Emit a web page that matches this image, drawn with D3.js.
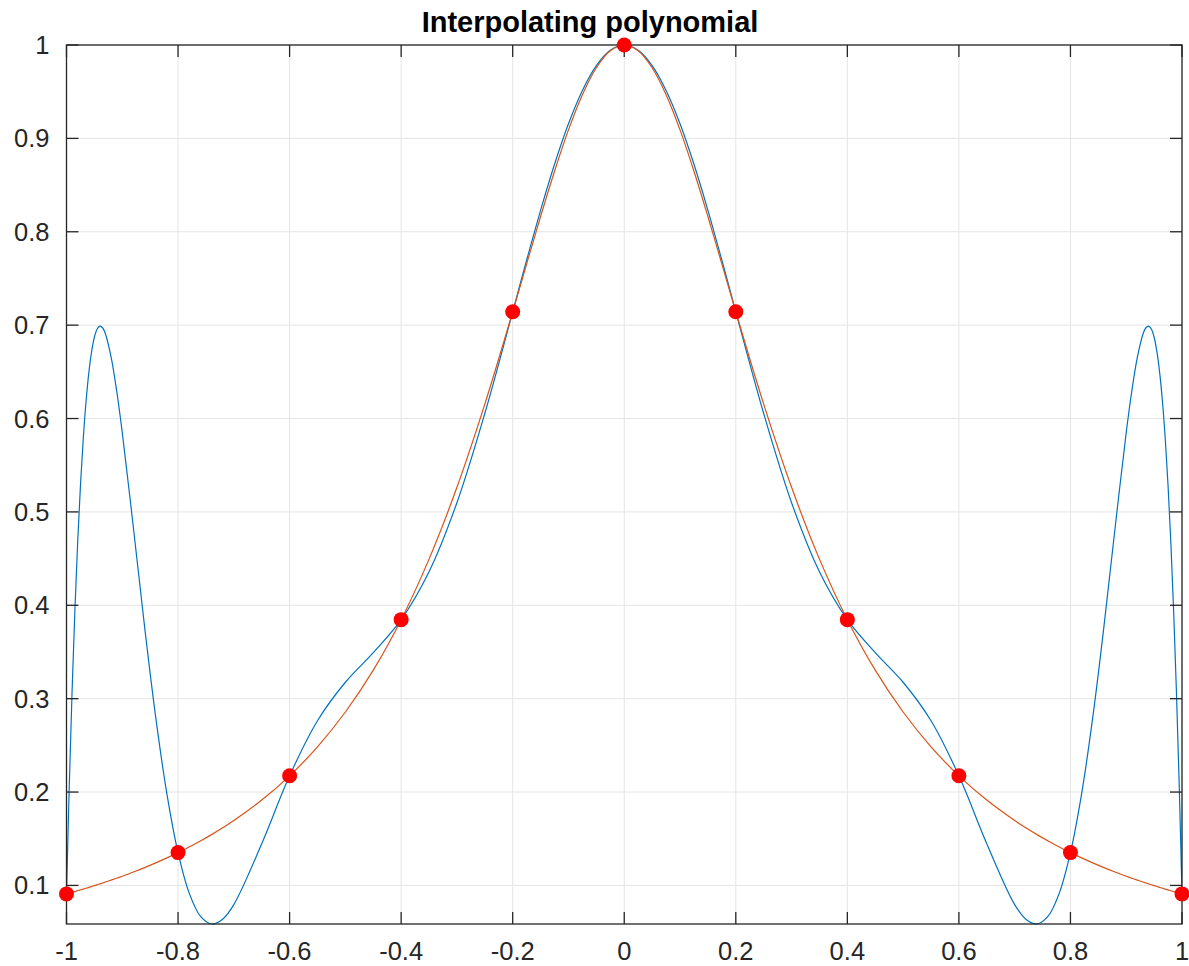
<!DOCTYPE html>
<html>
<head>
<meta charset="utf-8">
<script src="https://cdn.jsdelivr.net/npm/d3@7"></script>
<style>
  html, body { margin: 0; padding: 0; background: #fff; }
  svg { display: block; }
</style>
</head>
<body>
<div id="chart"></div>
<script>
// sample positions (x >= 0; mirrored for x < 0)
const xHalf = [0, 0.025, 0.05, 0.075, 0.1, 0.125, 0.15, 0.175, 0.2, 0.25, 0.3, 0.35, 0.4, 0.45, 0.5,
  0.55, 0.6, 0.65, 0.7, 0.72, 0.74, 0.76, 0.78, 0.8, 0.82, 0.84, 0.86, 0.88, 0.9, 0.91, 0.92, 0.93,
  0.935, 0.94, 0.945, 0.95, 0.955, 0.96, 0.965, 0.97, 0.975, 0.98, 0.985, 0.99, 0.995, 1];
// interpolating polynomial (blue)
const polyHalf = [1, 0.99445, 0.97801, 0.95138, 0.91564, 0.87225, 0.82294, 0.76961, 0.71429, 0.60541,
  0.50988, 0.43596, 0.38462, 0.34922, 0.31758, 0.27637, 0.21739, 0.14463, 0.0795, 0.06389, 0.0587,
  0.06705, 0.0918, 0.13514, 0.1981, 0.27989, 0.37711, 0.48274, 0.58498, 0.62949, 0.66571, 0.6903,
  0.69694, 0.69903, 0.69593, 0.68706, 0.67164, 0.64891, 0.618, 0.57806, 0.52812, 0.4672, 0.39423,
  0.30799, 0.20733, 0.09091];
// underlying function (orange)
const funcHalf = [1, 0.99379, 0.97561, 0.94675, 0.90909, 0.86486, 0.81633, 0.76555, 0.71429, 0.61538,
  0.52632, 0.44944, 0.38462, 0.33058, 0.28571, 0.24845, 0.21739, 0.19139, 0.16949, 0.16171, 0.15442,
  0.14758, 0.14116, 0.13514, 0.12947, 0.12413, 0.1191, 0.11436, 0.10989, 0.10775, 0.10566, 0.10364,
  0.10265, 0.10167, 0.1007, 0.09975, 0.09881, 0.09789, 0.09697, 0.09607, 0.09518, 0.0943, 0.09344,
  0.09258, 0.09174, 0.09091];
// nodes (red dots)
const nodeX = [-1, -0.8, -0.6, -0.4, -0.2, 0, 0.2, 0.4, 0.6, 0.8, 1];
const nodeY = [0.09091, 0.13514, 0.21739, 0.38462, 0.71429, 1, 0.71429, 0.38462, 0.21739, 0.13514, 0.09091];
const xTicks = [-1, -0.8, -0.6, -0.4, -0.2, 0, 0.2, 0.4, 0.6, 0.8, 1];
const yTicks = [0.1, 0.2, 0.3, 0.4, 0.5, 0.6, 0.7, 0.8, 0.9, 1];

const mirror = (xs, ys) => {
  const pts = [];
  for (let i = xs.length - 1; i > 0; i--) pts.push([-xs[i], ys[i]]);
  xs.forEach((x, i) => pts.push([x, ys[i]]));
  return pts;
};
const polyPts = mirror(xHalf, polyHalf);
const funcPts = mirror(xHalf, funcHalf);

const W = 1189, H = 966, mL = 66.5, mR = 7, mT = 45, mB = 42;
const FONT = 'Liberation Sans, Arial, Helvetica, sans-serif';
const AX = '#262626';

const svg = d3.select('#chart').append('svg').attr('width', W).attr('height', H);
const x = d3.scaleLinear().domain([-1, 1]).range([mL, W - mR]);
const y = d3.scaleLinear().domain([d3.min(polyHalf), 1]).range([H - mB, mT]);

// grid
xTicks.forEach(t => {
  svg.append('line').attr('x1', x(t)).attr('x2', x(t)).attr('y1', mT).attr('y2', H - mB)
    .attr('stroke', '#e5e5e5').attr('stroke-width', 1);
});
yTicks.forEach(t => {
  svg.append('line').attr('x1', mL).attr('x2', W - mR).attr('y1', y(t)).attr('y2', y(t))
    .attr('stroke', '#e5e5e5').attr('stroke-width', 1);
});

svg.append('defs').append('clipPath').attr('id', 'plotClip').append('rect')
  .attr('x', mL).attr('y', mT - 1).attr('width', W - mR - mL).attr('height', H - mB - mT + 2);

const line = d3.line().x(d => x(d[0])).y(d => y(d[1])).curve(d3.curveCatmullRom.alpha(0.5));
svg.append('path').datum(polyPts).attr('d', line).attr('fill', 'none')
  .attr('stroke', '#0072BD').attr('stroke-width', 1.2).attr('clip-path', 'url(#plotClip)');
svg.append('path').datum(funcPts).attr('d', line).attr('fill', 'none')
  .attr('stroke', '#D95319').attr('stroke-width', 1.2);

// box + ticks (MATLAB style, inward on all four sides)
const tl = 12;
svg.append('rect').attr('x', mL).attr('y', mT).attr('width', W - mR - mL).attr('height', H - mB - mT)
  .attr('fill', 'none').attr('stroke', AX).attr('stroke-width', 1.3);
xTicks.forEach(t => {
  svg.append('line').attr('x1', x(t)).attr('x2', x(t)).attr('y1', H - mB).attr('y2', H - mB - tl)
    .attr('stroke', AX).attr('stroke-width', 1.3);
  svg.append('line').attr('x1', x(t)).attr('x2', x(t)).attr('y1', mT).attr('y2', mT + tl)
    .attr('stroke', AX).attr('stroke-width', 1.3);
  svg.append('text').attr('x', x(t)).attr('y', H - mB + 36).attr('text-anchor', 'middle')
    .attr('font-family', FONT).attr('font-size', 25.5).attr('fill', AX).text(String(t));
});
yTicks.forEach(t => {
  svg.append('line').attr('x1', mL).attr('x2', mL + tl).attr('y1', y(t)).attr('y2', y(t))
    .attr('stroke', AX).attr('stroke-width', 1.3);
  svg.append('line').attr('x1', W - mR).attr('x2', W - mR - tl).attr('y1', y(t)).attr('y2', y(t))
    .attr('stroke', AX).attr('stroke-width', 1.3);
  svg.append('text').attr('x', mL - 17).attr('y', y(t) + 9).attr('text-anchor', 'end')
    .attr('font-family', FONT).attr('font-size', 25.5).attr('fill', AX).text(String(t));
});

// nodes
nodeX.forEach((nx, i) => {
  svg.append('circle').attr('cx', x(nx)).attr('cy', y(nodeY[i])).attr('r', 7.5).attr('fill', '#ff0000');
});

svg.append('text').attr('x', 590).attr('y', 32).attr('text-anchor', 'middle')
  .attr('font-family', FONT).attr('font-size', 29).attr('font-weight', 'bold').attr('fill', '#000')
  .text('Interpolating polynomial');
</script>
</body>
</html>
